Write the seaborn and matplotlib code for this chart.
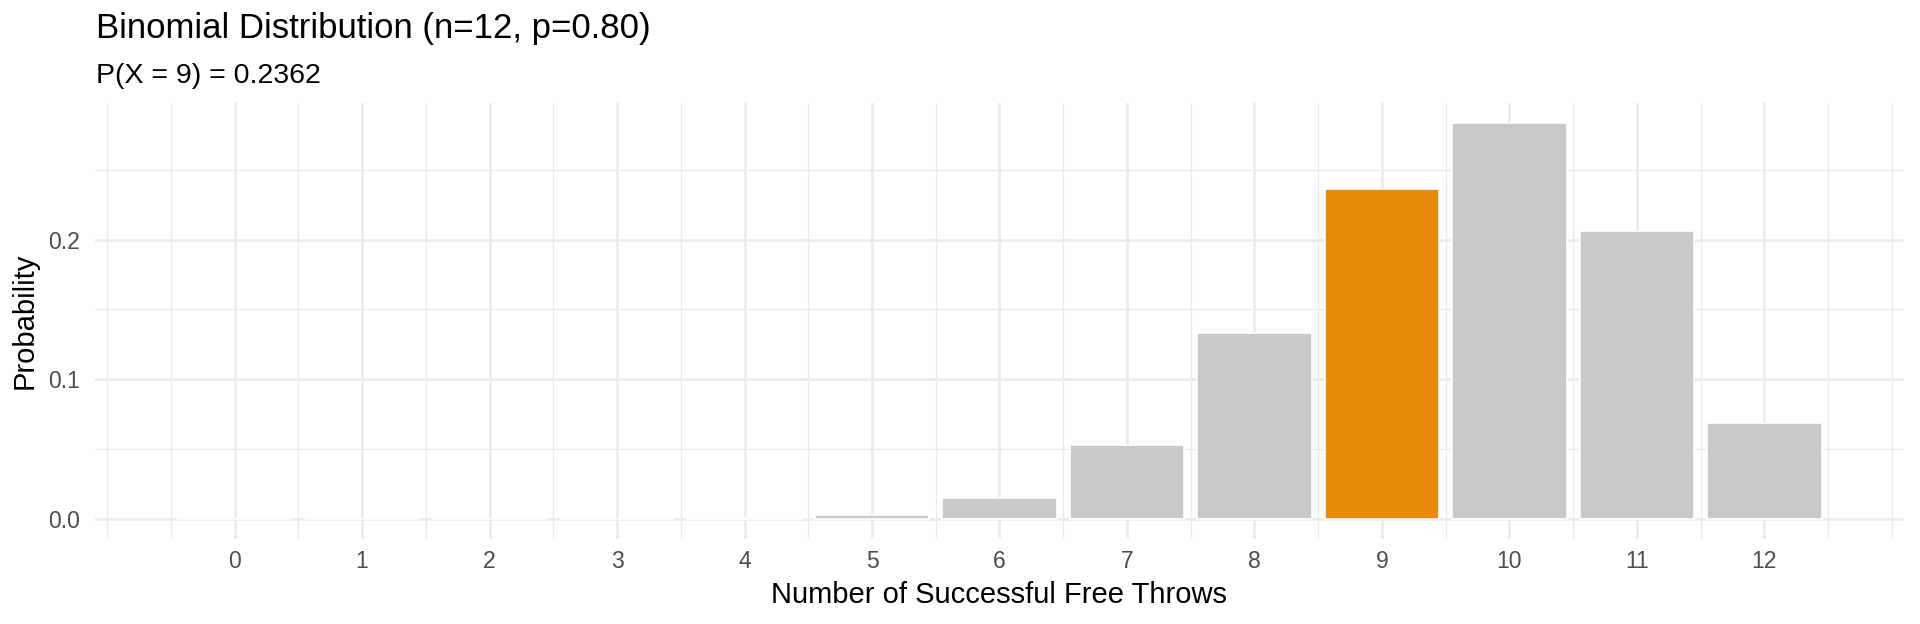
import numpy as np
import matplotlib
matplotlib.use("Agg")
import matplotlib.pyplot as plt
import seaborn as sns
import pandas as pd

# --- data: Binomial(n=12, p=0.80) pmf ---
successes = [0, 1, 2, 3, 4, 5, 6, 7, 8, 9, 10, 11, 12]
probability = [0.000000004, 0.0000002, 0.0000043, 0.0000577, 0.000519,
               0.003322, 0.015502, 0.053150, 0.132876, 0.236223,
               0.283468, 0.206158, 0.068719]
highlight_k = 9
title_text = "Binomial Distribution (n=12, p=0.80)"
subtitle_text = "P(X = 9) = 0.2362"

df = pd.DataFrame({"k": successes, "prob": probability})
df["hl"] = np.where(df["k"] == highlight_k, "yes", "no")

sns.set_style("white")
plt.rcParams['font.family'] = ['Liberation Sans', 'DejaVu Sans']

fig = plt.figure(figsize=(19.2, 6.24), dpi=100)
ax = fig.add_axes([95 / 1920, 1 - 539 / 624, (1904 - 95) / 1920, (539 - 103) / 624])

grid_col = "#EBEBEB"
ax.set_axisbelow(True)

sns.barplot(data=df, x="k", y="prob", hue="hl",
            palette={"no": "#C9C9C9", "yes": "#E8890A"},
            native_scale=True, dodge=False, width=0.9, legend=False,
            edgecolor="white", linewidth=1.2, saturation=1, ax=ax)

# limits like ggplot's 5% expansion
ax.set_xlim(-1.095, 13.095)
ymax = max(probability)
ax.set_ylim(-0.05 * ymax, 1.05 * ymax)

ax.set_xticks(successes)
ax.set_xticklabels([str(k) for k in successes])
ax.set_xticks(np.arange(-1, 13.5, 0.5), minor=True)
ax.set_yticks([0.0, 0.1, 0.2])
ax.set_yticklabels(["0.0", "0.1", "0.2"])
ax.set_yticks([0.05, 0.15, 0.25], minor=True)

ax.grid(which="major", color=grid_col, linewidth=1.9)
ax.grid(which="minor", color=grid_col, linewidth=1.0)
ax.tick_params(which="both", length=0)
ax.tick_params(axis="x", labelsize=16.5, labelcolor="#4D4D4D", pad=8)
ax.tick_params(axis="y", labelsize=16.5, labelcolor="#4D4D4D", pad=11)
for s in ax.spines.values():
    s.set_visible(False)

ax.set_xlabel("")
ax.set_ylabel("")
fig.text(999 / 1920, 1 - 603 / 624, "Number of Successful Free Throws",
         ha="center", va="baseline", fontsize=21, color="black")
fig.text(25 / 1920, 1 - 321 / 624, "Probability", rotation=90,
         ha="center", va="center", fontsize=21, color="black")

fig.text(96 / 1920, 1 - 38 / 624, title_text, ha="left", va="baseline",
         fontsize=25, color="black")
fig.text(96 / 1920, 1 - 83 / 624, subtitle_text, ha="left", va="baseline",
         fontsize=20.5, color="black")

fig.savefig("out.png", dpi=100, facecolor="white")
